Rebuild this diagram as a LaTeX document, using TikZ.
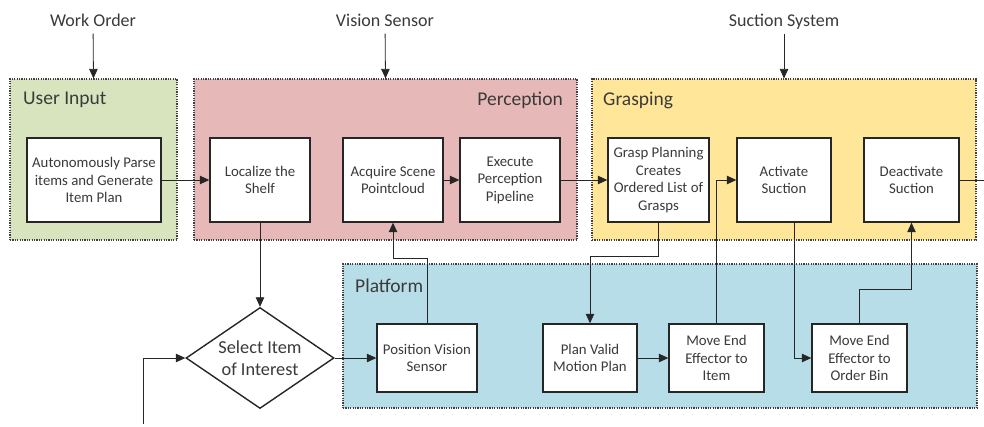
\documentclass[tikz,border=0pt]{standalone}
\usepackage{fontspec}
\setmainfont{Carlito}
\usetikzlibrary{arrows.meta,shapes.geometric}
\definecolor{txt}{HTML}{3A3A3A}
\definecolor{uigreen}{HTML}{D7E4BD}
\definecolor{percred}{HTML}{E6B9B8}
\definecolor{graspyel}{HTML}{FFE699}
\definecolor{platblue}{HTML}{B7DEE8}
\tikzset{
  group/.style={draw=black!75, dash pattern=on 1.2pt off 1.2pt, line width=1.2pt, inner sep=0pt},
  grouptitle/.style={text=txt, font=\fontsize{19.5}{22}\selectfont, inner sep=0pt},
  toplabel/.style={text=txt, font=\fontsize{18}{21}\selectfont, inner sep=4pt,
    text height=12pt, text depth=3pt},
  stepbox/.style={draw=black!85, fill=white, line width=1.4pt, text=txt,
    align=center, inner sep=2pt, font=\fontsize{14.8}{17.5}\selectfont},
  decision/.style={draw=black!85, fill=white, line width=1.4pt, text=txt,
    shape=diamond, aspect=1.47, inner sep=0pt, align=center,
    minimum width=148pt, minimum height=101pt,
    font=\fontsize{18.3}{22}\selectfont},
  arr/.style={draw=black!85, line width=0.8pt, -{Triangle[length=9.5pt,width=8.5pt]}},
  link/.style={draw=black!85, line width=0.8pt},
}
\begin{document}
\begin{tikzpicture}[x=1pt,y=-1pt]
\useasboundingbox (0,0) rectangle (984,426);

% subsystem groups
\node[group, fill=uigreen,  minimum width=167pt, minimum height=161pt] (ui)   at (93.5,159.5) {};
\node[group, fill=percred,  minimum width=383pt, minimum height=161pt] (perc) at (385.5,159.5) {};
\node[group, fill=graspyel, minimum width=384pt, minimum height=161pt] (gr)   at (784,159.5) {};
\node[group, fill=platblue, minimum width=634pt, minimum height=144pt] (plat) at (660,336) {};

\node[grouptitle, anchor=west] (tui)   at (23,100)  {User Input};
\node[grouptitle, anchor=east] (tperc) at (563,100) {Perception};
\node[grouptitle, anchor=west] (tgr)   at (603,100) {Grasping};
\node[grouptitle, anchor=west] (tplat) at (355,286) {Platform};

% external inputs
\node[toplabel] (wo) at (93,22)  {Work Order};
\node[toplabel] (vs) at (385,22) {Vision Sensor};
\node[toplabel] (ss) at (784,22) {Suction System};

% process steps
\node[stepbox, minimum width=134pt, minimum height=84pt] (parse) at (94,180)
  {Autonomously Parse\\items and Generate\\Item Plan};
\node[stepbox, minimum width=100pt, minimum height=84pt] (loc) at (260,180)
  {Localize the\\Shelf};
\node[stepbox, minimum width=100pt, minimum height=84pt] (acq) at (393,180)
  {Acquire Scene\\Pointcloud};
\node[stepbox, minimum width=100pt, minimum height=84pt] (exe) at (510,180)
  {Execute\\Perception\\Pipeline};
\node[stepbox, minimum width=101pt, minimum height=84pt] (gp) at (658.5,180)
  {Grasp Planning\\Creates\\Ordered List of\\Grasps};
\node[stepbox, minimum width=94pt, minimum height=84pt] (act) at (784,180)
  {Activate\\Suction};
\node[stepbox, minimum width=95pt, minimum height=84pt] (deact) at (911.5,180)
  {Deactivate\\Suction};

\node[stepbox, minimum width=100pt, minimum height=68pt] (pos) at (427,358)
  {Position Vision\\Sensor};
\node[stepbox, minimum width=94pt, minimum height=68pt] (plan) at (590,358)
  {Plan Valid\\Motion Plan};
\node[stepbox, minimum width=95pt, minimum height=68pt] (mvi) at (716.5,358)
  {Move End\\Effector to\\Item};
\node[stepbox, minimum width=95pt, minimum height=68pt] (mvb) at (859.5,358)
  {Move End\\Effector to\\Order Bin};

\node[decision] (sel) at (260,358) {Select Item\\of Interest};

\coordinate (loopin) at (143,424);
\coordinate (out) at (984,180);

% connectors
\draw[arr] (wo) -- (ui.north);
\draw[arr] (vs) -- (perc.north);
\draw[arr] (ss) -- (gr.north);

\draw[arr] (parse) -- (loc);
\draw[arr] (loc.south) -- (sel.north);
\draw[arr] (loopin) |- (sel.west);
\draw[arr] (sel.east) -- (pos.west);
\draw[arr] (pos.north) -- ++(0,-65) -| (acq.south);
\draw[arr] (acq) -- (exe);
\draw[arr] (exe) -- (gp);
\draw[arr] (gp.south) -- ++(0,34) -| (plan.north);
\draw[arr] (plan) -- (mvi);
\draw[arr] (mvi.north) |- (act.west);
\draw[arr] ([xshift=10pt]act.south) |- (mvb.west);
\draw[arr] (mvb.north) -- ++(0,-34) -| (deact.south);
\draw[link] (deact.east) -- (out);
\end{tikzpicture}
\end{document}
